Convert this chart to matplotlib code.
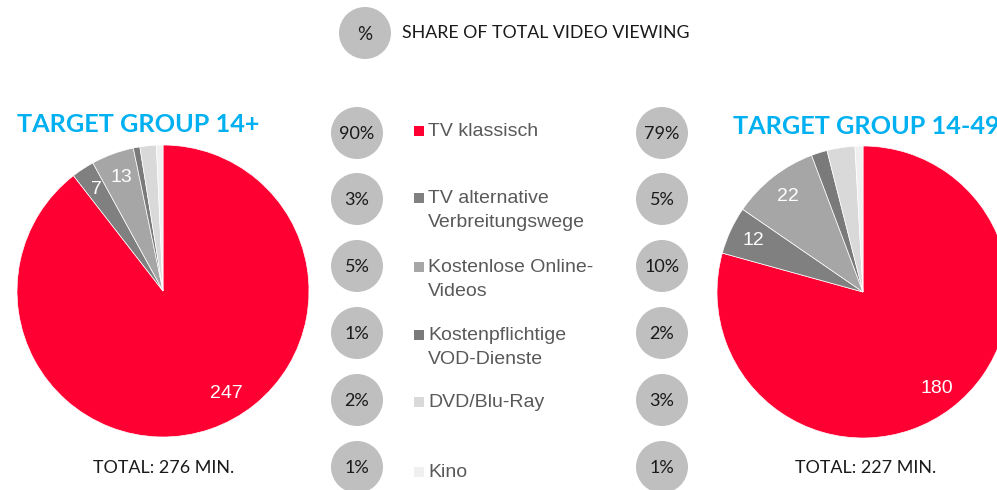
import numpy as np
import matplotlib
matplotlib.use("Agg")
import matplotlib.pyplot as plt
from matplotlib.patches import Circle, Rectangle

# ---------------- data ----------------
categories = ["TV klassisch", "TV alternative\nVerbreitungswege", "Kostenlose Online-\nVideos",
              "Kostenpflichtige\nVOD-Dienste", "DVD/Blu-Ray", "Kino"]
minutes_14plus = [247, 7, 13, 2, 5, 2]
minutes_14_49 = [180, 12, 22, 4, 7, 2]
share_14plus = ["90%", "3%", "5%", "1%", "2%", "1%"]
share_14_49 = ["79%", "5%", "10%", "2%", "3%", "1%"]
shown_labels = [True, True, True, False, False, False]
titles = ["TARGET GROUP 14+", "TARGET GROUP 14-49"]
totals = ["TOTAL: 276 MIN.", "TOTAL: 227 MIN."]
header = "SHARE OF TOTAL VIDEO VIEWING"

colors = ["#FF0033", "#808080", "#A6A6A6", "#7A7A7A", "#D9D9D9", "#F0F0F0"]

W, H = 997, 490
fig = plt.figure(figsize=(W / 100, H / 100), dpi=100)
fig.patch.set_facecolor("white")

def px_axes(cx, cy, r):
    return fig.add_axes([(cx - r) / W, (H - cy - r) / H, 2 * r / W, 2 * r / H])

def draw_pie(cx, cy, r, values, big_frac):
    ax = px_axes(cx, cy, r)
    wedges, _ = ax.pie(values, colors=colors, startangle=90, counterclock=False,
                       radius=1, wedgeprops=dict(edgecolor="white", linewidth=0.5))
    ax.set_xlim(-1, 1); ax.set_ylim(-1, 1)
    ax.set_aspect("equal"); ax.axis("off")
    total = sum(values)
    start = 90.0
    for i, v in enumerate(values):
        sweep = v / total * 360
        frac = big_frac if i == 0 else 0.5
        ang = np.deg2rad(start - sweep * frac)
        if shown_labels[i]:
            d = 0.83
            ax.text(d * np.cos(ang), d * np.sin(ang), str(v), color="white",
                    fontsize=14, family="Liberation Sans", ha="center", va="center")
        start -= sweep
    return ax

draw_pie(163, 291, 146, minutes_14plus, 0.46)
draw_pie(863, 292, 146, minutes_14_49, 0.5)

# overlay axes in pixel coordinates
ov = fig.add_axes([0, 0, 1, 1])
ov.set_xlim(0, W); ov.set_ylim(H, 0); ov.axis("off")
ov.patch.set_alpha(0)

circ_col = "#BFBFBF"
# header
ov.add_patch(Circle((365, 33), 26, color=circ_col, lw=0))
ov.text(365, 34, "%", fontsize=13.5, family="Lato", color="#1a1a1a", ha="center", va="center")
ov.text(402, 33, header, fontsize=12.8, family="Lato", color="#1a1a1a", ha="left", va="center")

# titles
ov.text(17, 124, titles[0], fontsize=18.2, family="Lato", weight="bold", color="#00B0F0",
        ha="left", va="center")
ov.text(733, 126, titles[1], fontsize=18.2, family="Lato", weight="bold", color="#00B0F0",
        ha="left", va="center")

# totals
ov.text(164, 468, totals[0], fontsize=12.9, family="Lato", color="#1a1a1a", ha="center", va="center")
ov.text(866, 468, totals[1], fontsize=12.9, family="Lato", color="#1a1a1a", ha="center", va="center")

# legend rows
row_y = [133, 199, 266, 333, 400, 467]
text_y = [131, 198, 267, 335, 402, 472]
for i, cat in enumerate(categories):
    y = row_y[i]
    ov.add_patch(Circle((357, y), 26, color=circ_col, lw=0))
    ov.add_patch(Circle((662, y), 26, color=circ_col, lw=0))
    ov.text(357, y + 1, share_14plus[i], fontsize=13, family="Lato", color="#1a1a1a",
            ha="center", va="center")
    ov.text(662, y + 1, share_14_49[i], fontsize=13, family="Lato", color="#1a1a1a",
            ha="center", va="center")
    ty = text_y[i]
    ov.add_patch(Rectangle((414, ty - 5), 10, 10, color=colors[i], lw=0))
    ov.text(428, ty - 8, cat, fontsize=14, family="Liberation Sans", color="#595959",
            ha="left", va="top", linespacing=1.55)

fig.savefig("out.png", dpi=100, facecolor="white")
